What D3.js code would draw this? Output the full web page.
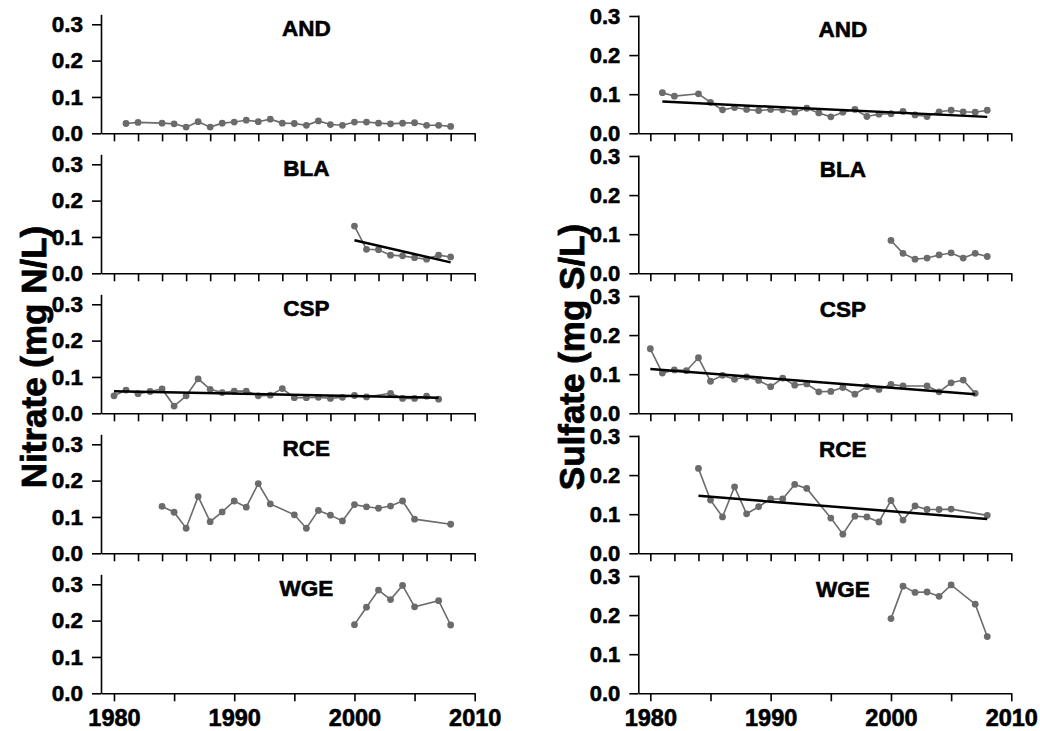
<!DOCTYPE html>
<html lang="en">
<head>
<meta charset="UTF-8">
<script src="https://d3js.org/d3.v7.min.js"></script>
<title>Nitrate and sulfate</title>
<style>
  body { margin: 0; background: #fff; }
  svg text { font-family: "Liberation Sans", Arial, sans-serif; font-weight: bold; fill: #000;
             stroke: #000; stroke-width: 0.6px; }
  .axis path, .axis line { stroke: #000; stroke-width: 1.6px; }
</style>
</head>
<body>
<div id="chart"></div>
<script>
const sites = ["AND", "BLA", "CSP", "RCE", "WGE"];
const yTicks = [0, 0.1, 0.2, 0.3];
const xTicksTop = d3.range(1980, 2011, 2);
const xTicksBottom = [1980, 1985, 1990, 1995, 2000, 2005, 2010];
const xLabels = [1980, 1990, 2000, 2010];

// nitrate, mg N/L
const nitrateAND = [[1981,0.027],[1982,0.030],[1984,0.028],[1985,0.026],[1986,0.017],[1987,0.032],[1988,0.017],
  [1989,0.028],[1990,0.031],[1991,0.036],[1992,0.032],[1993,0.039],[1994,0.028],[1995,0.027],[1996,0.022],
  [1997,0.034],[1998,0.024],[1999,0.022],[2000,0.031],[2001,0.031],[2002,0.028],[2003,0.026],[2004,0.028],
  [2005,0.029],[2006,0.022],[2007,0.022],[2008,0.019]];
const nitrateBLA = [[2000,0.130],[2001,0.066],[2002,0.065],[2003,0.050],[2004,0.048],[2005,0.043],[2006,0.039],
  [2007,0.050],[2008,0.045]];
const nitrateCSP = [[1980,0.048],[1981,0.064],[1982,0.054],[1983,0.060],[1984,0.067],[1985,0.020],[1986,0.048],
  [1987,0.095],[1988,0.066],[1989,0.057],[1990,0.061],[1991,0.061],[1992,0.048],[1993,0.050],[1994,0.068],
  [1995,0.043],[1996,0.043],[1997,0.044],[1998,0.041],[1999,0.044],[2000,0.049],[2001,0.045],[2003,0.055],
  [2004,0.041],[2005,0.041],[2006,0.047],[2007,0.039]];
const nitrateRCE = [[1984,0.129],[1985,0.113],[1986,0.069],[1987,0.156],[1988,0.087],[1989,0.114],[1990,0.144],
  [1991,0.127],[1992,0.192],[1993,0.136],[1995,0.106],[1996,0.069],[1997,0.118],[1998,0.105],[1999,0.089],
  [2000,0.134],[2001,0.128],[2002,0.124],[2003,0.130],[2004,0.144],[2005,0.094],[2008,0.080]];
const nitrateWGE = [[2000,0.189],[2001,0.237],[2002,0.284],[2003,0.258],[2004,0.297],[2005,0.238],[2007,0.255],
  [2008,0.188]];

// sulfate, mg S/L
const sulfateAND = [[1981,0.104],[1982,0.095],[1984,0.101],[1985,0.079],[1986,0.060],[1987,0.066],[1988,0.061],
  [1989,0.058],[1990,0.061],[1991,0.060],[1992,0.054],[1993,0.064],[1994,0.052],[1995,0.042],[1996,0.054],
  [1997,0.061],[1998,0.043],[1999,0.049],[2000,0.050],[2001,0.056],[2002,0.047],[2003,0.043],[2004,0.055],
  [2005,0.059],[2006,0.055],[2007,0.054],[2008,0.059]];
const sulfateBLA = [[2000,0.084],[2001,0.051],[2002,0.036],[2003,0.039],[2004,0.047],[2005,0.052],[2006,0.039],
  [2007,0.051],[2008,0.043]];
const sulfateCSP = [[1980,0.165],[1981,0.103],[1982,0.111],[1983,0.109],[1984,0.142],[1985,0.082],[1986,0.097],
  [1987,0.087],[1988,0.093],[1989,0.084],[1990,0.068],[1991,0.090],[1992,0.072],[1993,0.075],[1994,0.055],
  [1995,0.056],[1996,0.066],[1997,0.049],[1998,0.068],[1999,0.061],[2000,0.074],[2001,0.070],[2003,0.070],
  [2004,0.055],[2005,0.078],[2006,0.085],[2007,0.051]];
const sulfateRCE = [[1984,0.217],[1985,0.136],[1986,0.093],[1987,0.170],[1988,0.101],[1989,0.119],[1990,0.139],
  [1991,0.139],[1992,0.176],[1993,0.166],[1995,0.090],[1996,0.049],[1997,0.095],[1998,0.093],[1999,0.080],
  [2000,0.135],[2001,0.085],[2002,0.121],[2003,0.112],[2004,0.112],[2005,0.113],[2008,0.097]];
const sulfateWGE = [[2000,0.191],[2001,0.274],[2002,0.258],[2003,0.259],[2004,0.248],[2005,0.277],[2007,0.228],
  [2008,0.145]];

// fitted trend lines (start and end)
const nitrateTrendBLA = [[2000,0.091],[2008,0.030]];
const nitrateTrendCSP = [[1980,0.061],[2007,0.043]];
const sulfateTrendAND = [[1981,0.081],[2008,0.042]];
const sulfateTrendCSP = [[1980,0.113],[2007,0.049]];
const sulfateTrendRCE = [[1984,0.147],[2008,0.088]];

const nitrate = [nitrateAND, nitrateBLA, nitrateCSP, nitrateRCE, nitrateWGE];
const sulfate = [sulfateAND, sulfateBLA, sulfateCSP, sulfateRCE, sulfateWGE];
const nitrateTrends = [null, nitrateTrendBLA, nitrateTrendCSP, null, null];
const sulfateTrends = [sulfateTrendAND, null, sulfateTrendCSP, sulfateTrendRCE, null];

const W = 1040, H = 731;
const panelStep = 140, panelBottom = 133.3;

const svg = d3.select("#chart").append("svg")
  .attr("width", W)
  .attr("height", H);

const columns = [
  { data: nitrate, trends: nitrateTrends, xDomain: [1978.92, 2010], xRange: [101, 474.7],
    yMax: 0.3275, yTop: 14.3, yFont: 22.5, title: "Nitrate (mg N/L)", titleX: 46 },
  { data: sulfate, trends: sulfateTrends, xDomain: [1979.0, 2010], xRange: [638.3, 1011.3],
    yMax: 0.3025, yTop: 15, yFont: 22, title: "Sulfate (mg S/L)", titleX: 584 }
];

const line = d3.line();

columns.forEach(col => {
  const x = d3.scaleLinear().domain(col.xDomain).range(col.xRange);

  sites.forEach((site, i) => {
    const off = i * panelStep;
    const y = d3.scaleLinear().domain([0, col.yMax]).range([panelBottom + off, col.yTop + off]);
    const last = i === sites.length - 1;

    // x axis
    const xAxis = d3.axisBottom(x)
      .tickValues(last ? xTicksBottom : xTicksTop)
      .tickSizeInner(8).tickSizeOuter(0).tickPadding(8)
      .tickFormat(d => last && xLabels.includes(d) ? d : "");
    const gx = svg.append("g").attr("class", "axis")
      .attr("transform", `translate(0,${y(0)})`)
      .call(xAxis);
    gx.selectAll("text").style("font-size", "23.5px");

    // y axis
    const yAxis = d3.axisLeft(y)
      .tickValues(yTicks)
      .tickSizeInner(9).tickSizeOuter(0).tickPadding(9)
      .tickFormat(d3.format(".1f"));
    const gy = svg.append("g").attr("class", "axis")
      .attr("transform", `translate(${col.xRange[0]},0)`)
      .call(yAxis);
    gy.selectAll("text").style("font-size", col.yFont + "px");

    // site label
    svg.append("text")
      .attr("x", x(1996))
      .attr("y", y(col.yMax) + 21.7)
      .attr("text-anchor", "middle")
      .style("font-size", "22.5px")
      .text(site);

    const pts = col.data[i];
    svg.append("path")
      .attr("d", line(pts.map(d => [x(d[0]), y(d[1])])))
      .attr("fill", "none")
      .attr("stroke", "#6b6b6b")
      .attr("stroke-width", 1.6);

    svg.append("g").selectAll("circle")
      .data(pts)
      .join("circle")
      .attr("cx", d => x(d[0]))
      .attr("cy", d => y(d[1]))
      .attr("r", 3.4)
      .attr("fill", "#6b6b6b");

    if (col.trends[i]) {
      svg.append("path")
        .attr("d", line(col.trends[i].map(d => [x(d[0]), y(d[1])])))
        .attr("fill", "none")
        .attr("stroke", "#000")
        .attr("stroke-width", 2.5);
    }
  });

  // column title
  svg.append("text")
    .attr("transform", `translate(${col.titleX},357) rotate(-90)`)
    .attr("text-anchor", "middle")
    .style("font-size", "35px")
    .style("stroke-width", "0.8px")
    .text(col.title);
});
</script>
</body>
</html>
